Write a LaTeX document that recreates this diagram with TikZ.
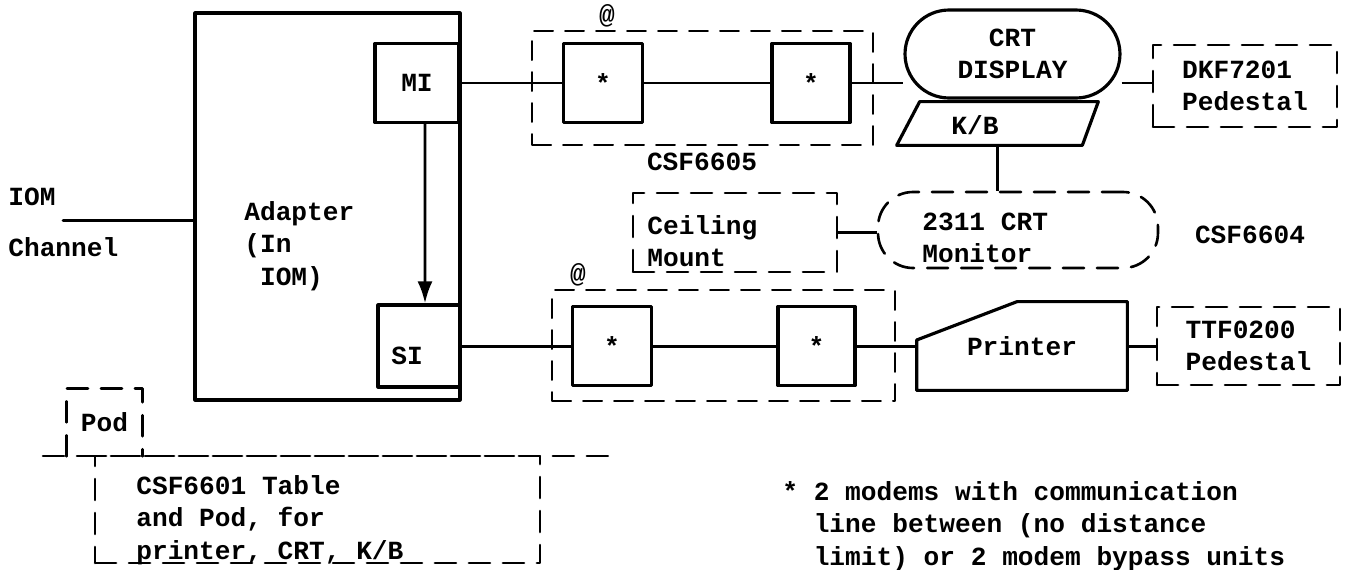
\documentclass[tikz,border=0pt]{standalone}
\usepackage{fontspec}
\setmainfont{Liberation Mono}
\usetikzlibrary{arrows.meta,backgrounds}

\begin{document}
\begin{tikzpicture}[x=0.02cm,y=-0.02cm,line cap=round,line join=round,
        font=\fontsize{14.9pt}{18.4pt}\selectfont\bfseries,
        caja/.style={draw,line width=1.8pt,inner sep=0pt},
        modem/.style={caja,minimum width=1.58cm,minimum height=1.58cm},
        discont/.style={draw,line width=1.5pt,dash pattern=on 0.42cm off 0.26cm},
        grupo/.style={draw,line width=1.1pt,dash pattern=on 0.38cm off 0.24cm},
        enlace/.style={line width=1.7pt},
        texto/.style={inner sep=0pt,align=left}]
        \useasboundingbox (0,0) rectangle (1347,569);

        % Adaptador dentro del IOM
        \node[caja,minimum width=5.30cm,minimum height=7.74cm] (adapter) at (327.5,206.5) {};
        \node[texto,anchor=west] (adaptxt) at (244,246) {Adapter\\(In\\~IOM)};
        \node[caja,minimum width=1.68cm,minimum height=1.58cm] (mi) at (417,83) {MI};
        \node[caja,minimum width=1.64cm,minimum height=1.64cm] (si) at (419,346) {};
        \node[texto] (sitxt) at (407,356) {SI};
        \draw[enlace,-{Latex[length=0.44cm,width=0.30cm]}]
            ([xshift=0.16cm]mi.south) -- ([xshift=0.12cm]si.north);

        % Canal IOM
        \node[texto,anchor=west] (iomtxt) at (8,197) {IOM};
        \node[texto,anchor=west] (chantxt) at (8,247) {Channel};
        \coordinate (chan) at (63,220);
        \draw[enlace] (chan) -- (chan -| adapter.west);

        % Enlace hacia la pantalla
        \node[grupo,minimum width=6.82cm,minimum height=2.28cm] (linkA) at (702.5,88) {};
        \node[modem] (modemA1) at (603,83) {*};
        \node[modem,minimum width=1.56cm] (modemA2) at (811,83) {*};
        \node (arrobaA) at (607,16) {@};
        \node (csfA) at (702,162) {CSF6605};

        % Pantalla, teclado y pedestal
        \node[caja,fill=white,rounded corners=0.88cm,minimum width=4.3cm,
            minimum height=1.76cm,align=center] (crt) at (1012.5,54) {CRT\\DISPLAY};
        \node[discont,minimum width=3.68cm,minimum height=1.64cm,align=left]
            (dkf) at (1245,86) {DKF7201\\Pedestal};
        \node[inner sep=0pt,minimum width=4.02cm,minimum height=0.86cm] (kb) at (997.5,123.5) {};
        \draw[caja] (kb.south west) -- ([xshift=0.46cm]kb.north west) -- (kb.north east)
            -- ([xshift=-0.32cm]kb.south east) -- cycle;
        \node[texto] (kbtxt) at (975,125) {K/B};

        % Monitor 2311 y montaje de techo
        \node[discont,rounded corners=0.7cm,minimum width=5.6cm,minimum height=1.52cm]
            (mon) at (1018,230) {};
        \node[texto,anchor=west] (montxt) at (922,238) {2311 CRT\\Monitor};
        \node (csfB) at (1250,235) {CSF6604};
        \node[discont,minimum width=4.08cm,minimum height=1.58cm] (ceil) at (735,232.5) {};
        \node[texto,anchor=west] (ceiltxt) at (647,241) {Ceiling\\Mount};

        % Enlace hacia la impresora
        \node[grupo,minimum width=6.86cm,minimum height=2.22cm] (linkB) at (723.5,345.5) {};
        \node[modem] (modemB1) at (612,346) {*};
        \node[modem,minimum width=1.54cm] (modemB2) at (816.5,346) {*};
        \node (arrobaB) at (578,275) {@};
        \node[inner sep=0pt,minimum width=4.2cm,minimum height=1.76cm] (prt) at (1022,346) {Printer};
        \draw[caja] (prt.south west) -- ([yshift=0.12cm]prt.west)
            -- ([xshift=-0.1cm]prt.north) -- (prt.north east) -- (prt.south east) -- cycle;
        \node[discont,minimum width=3.66cm,minimum height=1.56cm,align=left]
            (ttf) at (1248.5,346) {TTF0200\\Pedestal};

        % Mesa y pod
        \node[minimum width=1.5cm,minimum height=1.34cm] (pod) at (104.5,422.5) {Pod};
        \draw[discont] (pod.south west) -- (pod.north west) -- (pod.north east) -- (pod.south east);
        \coordinate (mesaL) at (43,456);
        \coordinate (mesaR) at (615,456);
        \draw[discont] (mesaL) -- (mesaR);
        \node[discont,minimum width=8.9cm,minimum height=2.14cm] (mesa) at (317.5,509.5) {};
        \node[texto,anchor=west] (mesatxt) at (136,520)
            {CSF6601 Table\\and Pod, for\\printer, CRT, K/B};

        % Nota
        \node[texto,anchor=west] (nota) at (782,526)
            {* 2 modems with communication\\~~line between (no distance\\~~limit) or 2 modem bypass units};

        % Conexiones
        \begin{scope}[on background layer]
            \draw[enlace] (mi.east) -- (modemA1.west);
            \draw[enlace] (modemA1.east) -- (modemA2.west);
            \draw[enlace] (modemA2.east) -- (modemA2.east -| crt.west);
            \draw[enlace] (crt.east |- modemA2) -- (modemA2 -| dkf.west);
            \draw[enlace] (kb.south) -- (kb.south |- mon.north);
            \draw[enlace] (ceil.east) -- (ceil.east -| mon.west);
            \draw[enlace] (si.east) -- (modemB1.west);
            \draw[enlace] (modemB1.east) -- (modemB2.west);
            \draw[enlace] (modemB2.east) -- (modemB2.east -| prt.west);
            \draw[enlace] (prt.east) -- (prt.east -| ttf.west);
        \end{scope}
\end{tikzpicture}
\end{document}
